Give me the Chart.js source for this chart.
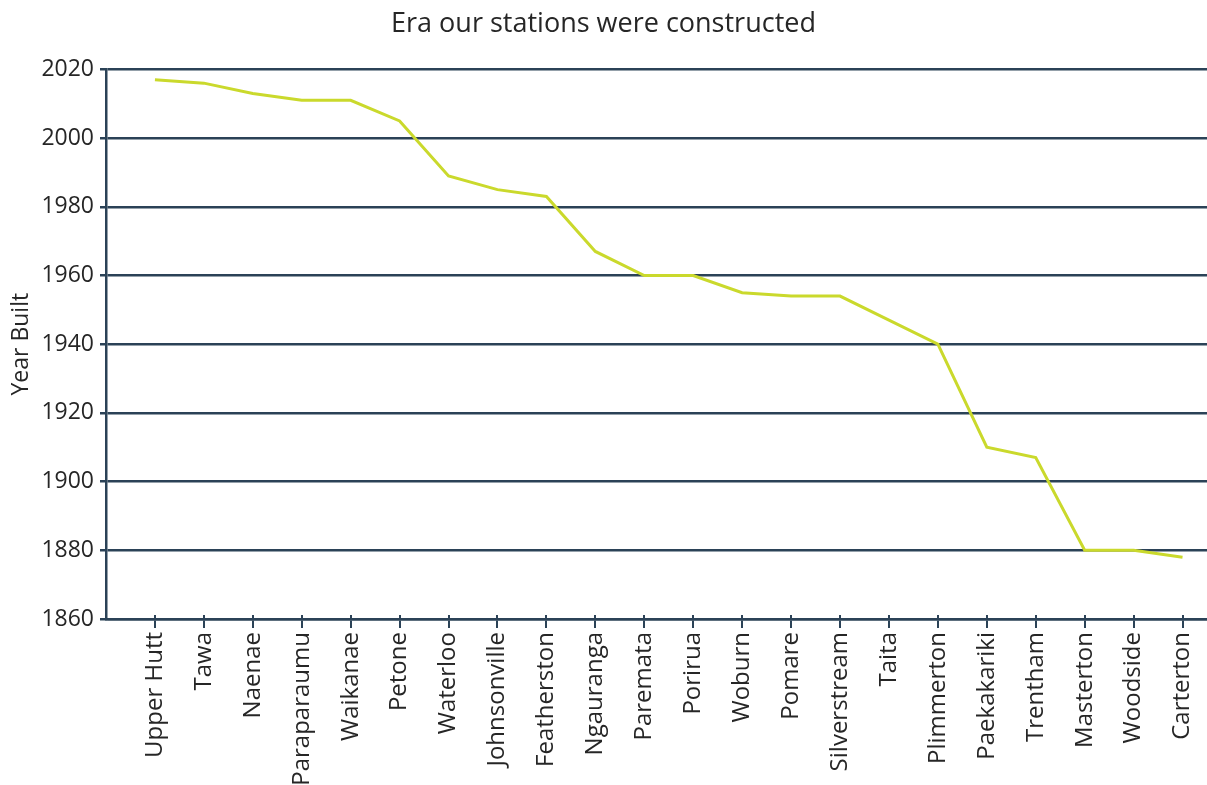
<!DOCTYPE html>
<html>
<head>
<meta charset="utf-8">
<title>Era our stations were constructed</title>
<script src="https://cdn.jsdelivr.net/npm/chart.js@4/dist/chart.umd.min.js"></script>
<style>
    body { margin: 0; background: #fff; }
    #eraChart { display: block; }
</style>
</head>
<body>
<canvas id="eraChart" width="1207" height="785"></canvas>
<script>
const stations = ['Upper Hutt', 'Tawa', 'Naenae', 'Paraparaumu', 'Waikanae', 'Petone', 'Waterloo', 'Johnsonville',
    'Featherston', 'Ngauranga', 'Paremata', 'Porirua', 'Woburn', 'Pomare', 'Silverstream', 'Taita',
    'Plimmerton', 'Paekakariki', 'Trentham', 'Masterton', 'Woodside', 'Carterton'];
const yearBuilt = [2017, 2016, 2013, 2011, 2011, 2005, 1989, 1985,
    1983, 1967, 1960, 1960, 1955, 1954, 1954, 1947,
    1940, 1910, 1907, 1880, 1880, 1878];
const yearTicks = [1860, 1880, 1900, 1920, 1940, 1960, 1980, 2000, 2020];

const axisColor = '#2b4257';
const textColor = '#262626';
const fontFamily = '"Open Sans", "Noto Sans", sans-serif';

// short tick marks poking up above the x axis line
const tickUp = {
    id: 'tickUp',
    afterDatasetsDraw(chart) {
        const x = chart.scales.x;
        const ctx = chart.ctx;
        ctx.save();
        ctx.strokeStyle = axisColor;
        ctx.lineWidth = 2;
        x.ticks.forEach(t => {
            if (t.value < 1) return;
            const px = Math.round(x.getPixelForValue(t.value));
            ctx.beginPath();
            ctx.moveTo(px, x.top - 4);
            ctx.lineTo(px, x.top);
            ctx.stroke();
        });
        ctx.restore();
    }
};

const ctx = document.getElementById('eraChart').getContext('2d');
new Chart(ctx, {
    type: 'line',
    data: {
        datasets: [{
            label: 'Year Built',
            data: stations.map((name, i) => ({ x: i + 1, y: yearBuilt[i] })),
            borderColor: '#cad92c',
            borderWidth: 3,
            pointRadius: 0,
            tension: 0,
            fill: false
        }]
    },
    options: {
        responsive: false,
        animation: false,
        layout: { padding: { left: 0, right: 0, top: 0, bottom: 0 } },
        plugins: {
            legend: { display: false },
            tooltip: { enabled: false },
            title: {
                display: true,
                text: 'Era our stations were constructed',
                color: textColor,
                font: { family: fontFamily, size: 27, weight: 'normal' },
                padding: { top: 8, bottom: 29 }
            }
        },
        scales: {
            x: {
                type: 'linear',
                min: 0,
                max: 22.5,
                afterBuildTicks: axis => {
                    axis.ticks = stations.map((s, i) => ({ value: i + 1 }));
                },
                afterFit: axis => {
                    axis.height = 166;
                    axis.paddingRight = 0;
                    axis.paddingLeft = 0;
                },
                grid: {
                    drawOnChartArea: false,
                    color: axisColor,
                    lineWidth: 2,
                    tickLength: 9
                },
                border: { display: true, color: axisColor, width: 2.5 },
                ticks: {
                    autoSkip: false,
                    minRotation: 90,
                    maxRotation: 90,
                    padding: 4,
                    color: textColor,
                    font: { family: fontFamily, size: 24 },
                    callback: value => stations[value - 1] || ''
                }
            },
            y: {
                min: 1860,
                max: 2020,
                afterBuildTicks: axis => {
                    axis.ticks = yearTicks.map(v => ({ value: v }));
                },
                afterFit: axis => { axis.width = 106; },
                grid: {
                    color: axisColor,
                    lineWidth: 2.5,
                    tickLength: 6
                },
                border: { display: true, color: axisColor, width: 2.5 },
                title: {
                    display: true,
                    text: 'Year Built',
                    color: textColor,
                    font: { family: fontFamily, size: 23 },
                    padding: { top: 8, bottom: 0 }
                },
                ticks: {
                    padding: 6,
                    color: textColor,
                    font: { family: fontFamily, size: 23 },
                    callback: value => String(value)
                }
            }
        }
    },
    plugins: [tickUp]
});
</script>
</body>
</html>
